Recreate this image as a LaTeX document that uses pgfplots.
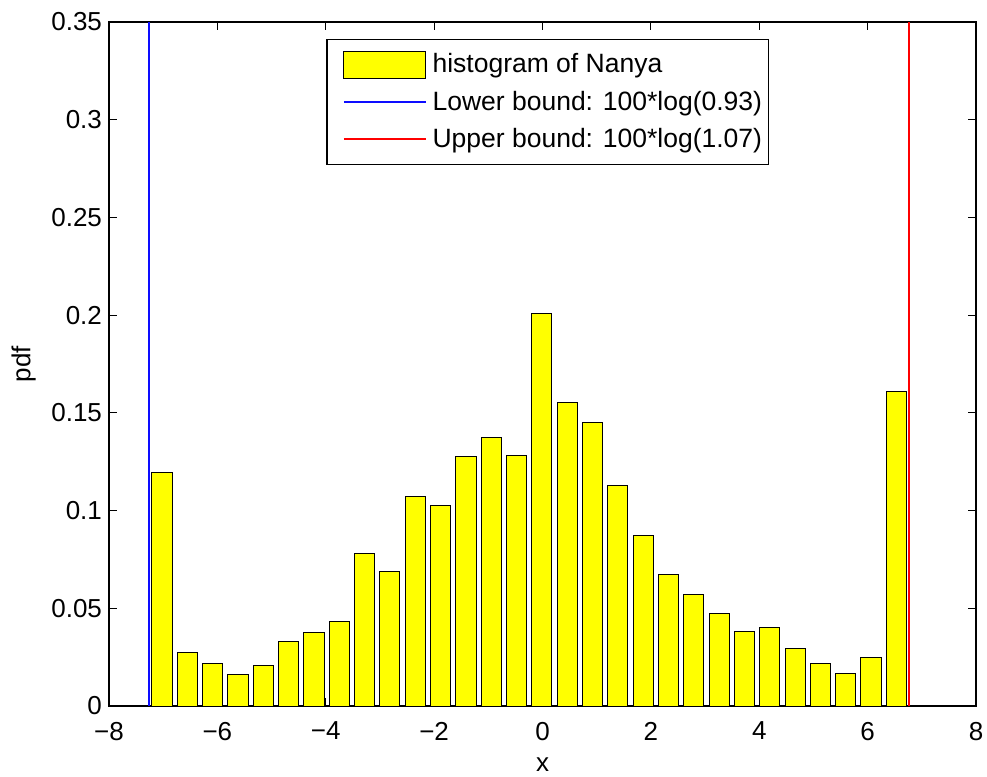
\documentclass[border=0pt]{standalone}
\usepackage{fontspec}
\setmainfont{Liberation Sans}
\usepackage{pgfplots}
\usepackage{pgfplotstable}
\pgfplotsset{compat=1.18}
\usetikzlibrary{calc}

\definecolor{barfill}{RGB}{255,255,0}
\definecolor{lowcol}{rgb}{0.05,0.05,1}
\definecolor{upcol}{RGB}{255,0,0}

% Normalised histogram of Nanya log-returns (bin centres, pdf)
\pgfplotstableread{
x y
-7.023 0.1196
-6.556 0.0275
-6.088 0.0220
-5.621 0.0160
-5.153 0.0206
-4.686 0.0329
-4.219 0.0375
-3.751 0.0431
-3.284 0.0781
-2.817 0.0686
-2.349 0.1071
-1.882 0.1025
-1.414 0.1276
-0.947 0.1376
-0.480 0.1281
-0.012 0.2006
0.455 0.1552
0.923 0.1450
1.390 0.1126
1.857 0.0875
2.325 0.0674
2.792 0.0573
3.260 0.0471
3.727 0.0382
4.194 0.0404
4.662 0.0293
5.129 0.0220
5.597 0.0167
6.064 0.0247
6.532 0.1607
}\histdata

\newcommand{\lblfont}{\fontsize{13}{15}\selectfont}
\newcommand{\legfont}{\fontsize{13.25}{15}\selectfont}

\begin{document}
\begin{tikzpicture}
\begin{axis}[
  scale only axis,
  width=433.5pt, height=342pt,
  xmin=-8, xmax=8, ymin=0, ymax=0.35,
  xtick={-8,-6,...,8},
  xticklabels={−8,−6,−4,−2,0,2,4,6,8},
  ytick={0,0.05,0.1,0.15,0.2,0.25,0.3,0.35},
  yticklabels={0,0.05,0.1,0.15,0.2,0.25,0.3,0.35},
  tick align=inside,
  xtick pos=both, ytick pos=both,
  major tick length=4pt,
  axis line style={line width=0.6pt},
  every tick/.style={black, line width=0.6pt},
  tick label style={font=\lblfont},
  xticklabel style={yshift=-4.5pt},
  label style={font=\lblfont},
  xlabel={x}, ylabel={pdf},
  xlabel style={at={(axis description cs:0.5,-0.086)}, anchor=center},
  ylabel style={at={(axis description cs:-0.0985,0.5)}, anchor=center},
  legend cell align=left,
  legend style={
    at={(axis description cs:0.5058,0.975)}, anchor=north,
    draw=black, line width=0.6pt, font=\legfont,
    row sep=3.5pt, inner xsep=0pt, inner ysep=5pt,
    nodes={inner xsep=3pt},
  },
]
\coordinate (bl) at (rel axis cs:0,0);
\coordinate (tr) at (rel axis cs:1,1);

\addplot[ybar, bar width=0.374, fill=barfill, draw=black, line width=0.5pt,
  legend image code/.code={
    \path (0pt,0pt);
    \draw[fill=barfill, draw=black, line width=0.5pt] (8pt,-6.75pt) rectangle (49pt,6.75pt);}]
  table {\histdata};
\addlegendentry{histogram of Nanya}

\addplot[draw=lowcol, color=lowcol, line width=0.8pt,
  legend image code/.code={\path (0pt,0pt); \draw[draw=lowcol, line width=0.8pt] (8pt,0pt) -- (49pt,0pt);}]
  coordinates {(-7.257,0) (-7.257,0.35)};
\addlegendentry{Lower bound: 100*log(0.93)}

\addplot[draw=upcol, color=upcol, line width=0.7pt,
  legend image code/.code={\path (0pt,0pt); \draw[draw=upcol, line width=0.7pt] (8pt,0pt) -- (49pt,0pt);}]
  coordinates {(6.766,0) (6.766,0.35)};
\addlegendentry{Upper bound: 100*log(1.07)}
\end{axis}
\pgfresetboundingbox
\path[use as bounding box] ($(bl)+(-54.5pt,-35pt)$) rectangle ($(tr)+(5.5pt,11pt)$);
\end{tikzpicture}
\end{document}
